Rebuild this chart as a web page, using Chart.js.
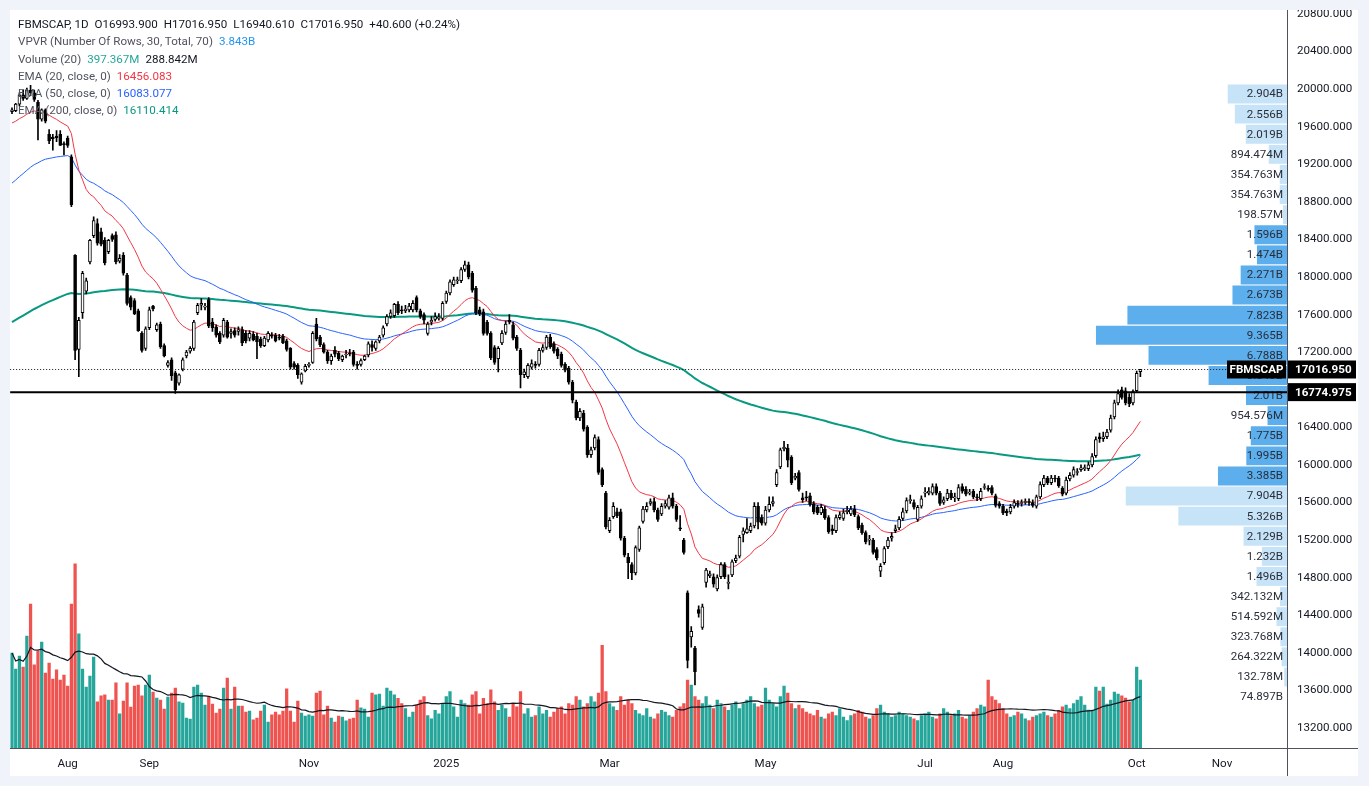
<!DOCTYPE html>
<html>
<head>
<meta charset="utf-8">
<script src="https://cdn.jsdelivr.net/npm/chart.js@4.4.1/dist/chart.umd.min.js"></script>
<style>
  html, body { margin: 0; padding: 0; background: #f0f3fa; }
  body { width: 1369px; height: 786px; position: relative; overflow: hidden; font-family: Roboto, sans-serif; }
  #pane { position: absolute; left: 10px; top: 10px; width: 1348px; height: 766px; background: #fff; overflow: hidden; }
  #vp { position: absolute; left: 0; top: 74px; }
  #main { position: absolute; left: 0; top: 0; }
  #legend { position: absolute; left: 8px; top: 6px; font-size: 11.6px; line-height: 17.3px; color: #131722; white-space: nowrap; }
  #legend .g { color: #50535e; }
  #legend span.v { margin-left: 6px; }
</style>
</head>
<body>
<div id="pane">
  <canvas id="vp" width="1277" height="624"></canvas>
  <canvas id="main" width="1348" height="766"></canvas>
  <div id="legend">
    <div>FBMSCAP, 1D<span class="v">O16993.900</span><span class="v">H17016.950</span><span class="v">L16940.610</span><span class="v">C17016.950</span><span class="v">+40.600 (+0.24%)</span></div>
    <div><span class="g">VPVR (Number Of Rows, 30, Total, 70)</span><span class="v" style="color:#2196f3">3.843B</span></div>
    <div><span class="g">Volume (20)</span><span class="v" style="color:#26a69a">397.367M</span><span class="v">288.842M</span></div>
    <div><span class="g">EMA (20, close, 0)</span><span class="v" style="color:#f23645">16456.083</span></div>
    <div><span class="g">EMA (50, close, 0)</span><span class="v" style="color:#2962ff">16083.077</span></div>
    <div><span class="g">EMA (200, close, 0)</span><span class="v" style="color:#089981">16110.414</span></div>
  </div>
</div>
<script>
// daily bars [open, high, low, close]
const ohlc = [
  [19760,19800,19740,19780],[19770,19850,19760,19840],[19840,19960,19820,19940],[19940,19990,19880,19900],[19900,20010,19890,19990],
  [19990,20040,19930,19960],[19960,19990,19870,19890],[19860,19880,19460,19680],[19680,19790,19660,19780],[19780,19790,19640,19660],
  [19520,19570,19420,19450],[19490,19520,19350,19470],[19500,19560,19440,19480],[19520,19560,19400,19400],[19420,19440,19300,19410],
  [19480,19500,19380,19400],[19280,19300,18750,18770],[18230,18240,17120,17220],[17230,17570,16940,17540],[17620,18060,17560,18040],
  [17850,17990,17820,17960],[18160,18400,18140,18390],[18440,18640,18420,18600],[18570,18620,18340,18360],[18480,18520,18330,18350],
  [18390,18420,18130,18150],[18270,18400,18250,18390],[18440,18460,18380,18400],[18450,18480,18140,18160],[18170,18240,18150,18200],
  [18230,18260,18020,18040],[18020,18040,17700,17720],[17780,17800,17650,17680],[17750,17770,17600,17610],[17640,17660,17420,17430],
  [17400,17420,17200,17220],[17240,17470,17220,17450],[17460,17680,17440,17650],[17690,17700,17640,17660],[17440,17510,17420,17490],
  [17500,17520,17240,17260],[17270,17290,17150,17160],[17060,17110,17040,17090],[17120,17140,16900,16950],[16980,17000,16760,16800],
  [16870,16970,16850,16960],[17020,17140,17000,17120],[17160,17220,17140,17200],[17210,17260,17190,17240],[17240,17540,17220,17520],
  [17620,17720,17600,17700],[17700,17770,17650,17720],[17680,17720,17650,17690],[17760,17780,17460,17480],[17520,17560,17420,17460],
  [17470,17490,17360,17380],[17400,17420,17290,17310],[17380,17560,17360,17540],[17520,17540,17350,17360],[17400,17450,17350,17420],
  [17430,17460,17360,17380],[17420,17470,17380,17440],[17440,17470,17270,17300],[17400,17430,17300,17320],[17350,17430,17320,17400],
  [17390,17420,17320,17330],[17370,17400,17130,17310],[17340,17360,17250,17270],[17270,17370,17260,17350],[17330,17420,17310,17400],
  [17380,17410,17350,17370],[17380,17400,17310,17320],[17360,17390,17330,17350],[17370,17390,17290,17300],[17320,17340,17210,17230],
  [17240,17250,17020,17040],[17080,17100,17020,17040],[17060,17080,16920,16960],[16880,16980,16860,16970],[17000,17070,16990,17050],
  [17060,17090,17040,17070],[17090,17420,17080,17400],[17500,17560,17320,17340],[17360,17380,17260,17280],[17280,17300,17190,17200],
  [17200,17220,17080,17110],[17110,17180,17070,17160],[17220,17260,17150,17180],[17190,17210,17110,17130],[17120,17170,17100,17160],
  [17170,17220,17140,17180],[17190,17230,17160,17180],[17200,17220,17050,17070],[17070,17100,17020,17060],[17070,17130,17050,17110],
  [17120,17170,17110,17160],[17170,17310,17150,17290],[17280,17320,17210,17250],[17240,17320,17220,17310],[17320,17380,17300,17360],
  [17380,17480,17360,17460],[17500,17600,17480,17580],[17580,17650,17560,17620],[17590,17720,17570,17710],[17710,17740,17600,17620],
  [17650,17690,17610,17640],[17640,17700,17620,17660],[17650,17720,17630,17690],[17650,17750,17630,17720],[17780,17800,17630,17650],
  [17640,17660,17560,17580],[17600,17620,17500,17540],[17400,17520,17380,17500],[17520,17580,17490,17540],[17550,17620,17530,17580],
  [17560,17610,17540,17570],[17560,17740,17540,17720],[17740,17850,17720,17830],[17830,17970,17810,17950],[17920,18000,17900,17970],
  [17960,18000,17930,17970],[17960,18100,17940,18080],[18080,18170,18060,18130],[18130,18160,17980,18000],[18040,18060,17840,17860],
  [17880,17900,17600,17620],[17650,17680,17590,17610],[17630,17660,17380,17400],[17520,17540,17380,17400],[17400,17420,17120,17140],
  [17250,17270,17070,17090],[17130,17260,16990,17240],[17300,17430,17280,17400],[17410,17530,17390,17500],[17540,17600,17500,17520],
  [17490,17520,17330,17350],[17360,17380,17220,17240],[17220,17240,16820,16960],[16960,17020,16930,16990],[16940,17080,16920,17060],
  [17040,17120,17020,17080],[17070,17100,17030,17060],[17070,17240,17050,17220],[17220,17280,17200,17250],[17250,17380,17230,17360],
  [17360,17390,17240,17260],[17290,17310,17190,17210],[17230,17250,17130,17160],[17180,17200,17040,17060],[17070,17090,16990,17010],
  [17030,17050,16860,16880],[16880,16900,16660,16690],[16670,16690,16480,16500],[16500,16600,16470,16570],[16550,16580,16360,16380],
  [16400,16420,16080,16110],[16110,16190,16080,16160],[16180,16320,16160,16290],[16270,16300,15900,15920],[15950,15970,15770,15790],
  [15700,15720,15320,15340],[15300,15440,15280,15410],[15450,15600,15430,15560],[15500,15540,15440,15460],[15500,15530,15200,15220],
  [15220,15240,15020,15040],[15020,15060,14790,14960],[14940,14960,14780,14850],[14850,15140,14830,15120],[15100,15350,15080,15330],
  [15400,15560,15380,15530],[15520,15600,15500,15560],[15590,15640,15570,15610],[15610,15650,15500,15520],[15520,15540,15400,15420],
  [15480,15590,15460,15560],[15560,15620,15540,15590],[15550,15680,15530,15650],[15650,15700,15540,15560],[15560,15580,15400,15420],
  [15330,15460,15300,15320],[15200,15220,15050,15070],[14640,14660,13840,13920],[14170,14280,14060,14230],[14050,14070,13660,13800],
  [14460,14500,14380,14420],[14270,14520,14250,14490],[14750,14900,14700,14880],[14820,14870,14800,14840],[14810,14840,14700,14730],
  [14680,14830,14660,14800],[14810,14960,14790,14940],[14940,14960,14790,14810],[14740,14830,14680,14750],[14830,14990,14810,14970],
  [14980,15040,14960,15010],[15030,15250,15010,15230],[15260,15330,15180,15300],[15280,15430,15270,15320],[15300,15380,15280,15350],
  [15350,15600,15330,15560],[15560,15600,15320,15390],[15440,15470,15360,15380],[15380,15560,15360,15520],[15520,15660,15500,15580],
  [15590,15660,15560,15610],[15790,15950,15770,15920],[15980,16180,15960,16160],[16170,16250,16150,16190],[16180,16220,15980,16050],
  [16080,16100,15790,15810],[15860,15910,15840,15880],[15920,15940,15720,15740],[15650,15700,15600,15630],[15660,15720,15620,15650],
  [15670,15700,15560,15580],[15590,15610,15480,15500],[15550,15570,15470,15490],[15490,15580,15470,15550],[15530,15560,15420,15440],
  [15440,15460,15270,15290],[15320,15360,15260,15300],[15300,15470,15280,15440],[15440,15500,15420,15470],[15430,15530,15410,15490],
  [15500,15560,15480,15520],[15480,15560,15460,15530],[15530,15570,15450,15470],[15450,15470,15310,15330],[15360,15380,15260,15280],
  [15280,15300,15160,15180],[15200,15250,15150,15210],[15200,15220,15050,15070],[15100,15120,14990,15010],[14870,14950,14810,14920],
  [14960,15130,14940,15110],[15130,15230,15110,15200],[15220,15280,15190,15240],[15300,15360,15280,15320],[15330,15450,15310,15420],
  [15430,15540,15410,15500],[15510,15650,15490,15620],[15620,15680,15590,15630],[15600,15630,15530,15550],[15420,15570,15400,15550],
  [15560,15670,15540,15640],[15700,15760,15660,15710],[15700,15760,15680,15720],[15700,15800,15680,15770],[15770,15800,15680,15700],
  [15700,15720,15570,15590],[15600,15660,15580,15630],[15640,15740,15620,15700],[15700,15730,15630,15650],[15650,15700,15610,15660],
  [15640,15790,15620,15760],[15770,15800,15700,15720],[15740,15770,15670,15690],[15700,15740,15680,15710],[15720,15740,15640,15660],
  [15660,15690,15620,15650],[15640,15750,15620,15720],[15760,15800,15740,15770],[15750,15780,15720,15740],[15760,15780,15680,15700],
  [15670,15690,15550,15570],[15590,15610,15540,15560],[15560,15580,15470,15490],[15510,15530,15460,15490],[15500,15580,15480,15550],
  [15560,15630,15540,15600],[15590,15620,15550,15580],[15590,15630,15560,15600],[15600,15640,15580,15610],[15610,15640,15570,15600],
  [15600,15630,15550,15570],[15560,15680,15540,15660],[15660,15820,15640,15790],[15790,15890,15770,15860],[15860,15880,15790,15810],
  [15810,15890,15790,15860],[15860,15890,15820,15850],[15860,15880,15760,15780],[15750,15770,15670,15690],[15700,15870,15680,15840],
  [15850,15920,15830,15890],[15890,15980,15870,15950],[15920,15960,15890,15930],[15950,16000,15930,15970],[15960,16000,15940,15970],
  [15960,16030,15940,16000],[16000,16120,15980,16090],[16100,16300,16080,16270],[16300,16340,16240,16280],[16280,16350,16250,16300],
  [16300,16380,16280,16350],[16370,16530,16350,16500],[16510,16690,16490,16660],[16660,16800,16640,16760],[16800,16830,16700,16720],
  [16790,16820,16640,16660],[16720,16760,16620,16650],[16660,16800,16640,16780],[16790,17000,16770,16976.35],[16993.9,17016.95,16940.61,17016.95]
];

// daily volume, millions
const volumes = [
  555,461,537,473,654,841,485,566,619,438, 496,403,456,397,426,362,841,1075,666,461,
  356,420,531,269,304,310,280,280,380,199, 274,380,239,362,368,304,368,426,327,292,
  280,228,298,321,350,269,263,175,169,356, 368,321,251,298,257,204,228,350,409,228,
  356,245,245,210,216,164,175,216,251,152, 193,210,193,216,345,216,152,274,204,187,
  193,187,321,333,193,245,175,152,187,181, 158,169,175,280,234,228,181,321,310,315,
  245,350,333,310,290,260,
  230,180,210,250,280,300,190,170,220,200,
  260,300,330,240,180,280,260,250,310,330,200,
  290,260,340,270,220,250,230,180,260,240,330,200,230,180,190,240,
  200,220,180,210,230,240,200,260,250,300,280,240,260,300,270,320,
  600,
  330,260,240,220,300,250,280,260,220,200,190,230,180,170,200,220,210,190,180,220,240,260,
  397,368,300,
  280,260,300,250,230,280,260,240,220,250,270,230,260,280,300,260,240,
  250,350,280,260,240,300,362,320,260,230,250,
  230,210,200,190,220,180,170,200,210,190,230,180,160,190,200,220,210,180,170,190,230,250,210,200,
  180,190,210,200,190,180,170,160,190,200,210,180,170,200,230,210,190,200,220,180,170,190,210,230,
  250,240,397,300,280,260,230,200,180,190,210,200,170,160,180,190,200,210,190,180,200,220,240,250,230,260,280,300,250,
  222,222,356,333,356,257,280,327,315,304,292,269,280,473,397
];

const priceTicks = [13200,13600,14000,14400,14800,15200,15600,16000,16400,16800,17200,17600,18000,18400,18800,19200,19600,20000,20400,20800];
const tickIdx  = [15, 37, 80, 117, 161, 203, 246, 267, 303, 326];
const tickText = ['Aug','Sep','Nov','2025','Mar','May','Jul','Aug','Oct','Nov'];

// volume profile rows, top (high price) to bottom, millions
const vpRows = [2904,2556,2019,894.474,354.763,354.763,198.57,1596,1474,2271,2673,7823,9365,6788,3843,
                2010,954.576,1775,1995,3385,7904,5326,2129,1232,1496,342.132,514.592,323.768,264.322,132.78];
const vpTotal = '74.897B';
const vpValueArea = [7, 19];

const emaSeeds = { 20: 19640, 50: 19000, 200: 17520 };
const levelLine = 16774.975;
const symbol = 'FBMSCAP';

const nSlots = 344;
const slots = Array.from({ length: nSlots }, (_, i) => String(i));
const closes = ohlc.map(b => b[3]);
const lastClose = closes[closes.length - 1];
const isUp = ohlc.map(b => b[3] >= b[0]);

function ema(n) {
  const a = 2 / (n + 1);
  let v = emaSeeds[n];
  return closes.map((c, i) => { if (i > 0) v = c * a + v * (1 - a); return v; });
}
const volMA = volumes.map((v, i) => {
  const w = volumes.slice(Math.max(0, i - 19), i + 1);
  return w.reduce((s, x) => s + x, 0) / w.length;
});

const tickMap = {};
tickIdx.forEach((i, k) => { tickMap[i] = tickText[k]; });

Chart.defaults.font.family = 'Roboto, sans-serif';
Chart.defaults.font.size = 11.6;
Chart.defaults.color = '#131722';

const overlay = {
  id: 'overlay',
  afterDraw(c) {
    const { ctx, chartArea: a } = c;
    const y = c.scales.y;
    ctx.save();
    // axis frame lines
    ctx.strokeStyle = '#4f525c';
    ctx.lineWidth = 1;
    ctx.beginPath();
    ctx.moveTo(Math.round(a.right) + 0.5, 0);
    ctx.lineTo(Math.round(a.right) + 0.5, c.height);
    ctx.moveTo(0, Math.round(a.bottom) + 0.5);
    ctx.lineTo(c.width, Math.round(a.bottom) + 0.5);
    ctx.stroke();
    // last price dotted line
    const yl = Math.round(y.getPixelForValue(lastClose)) + 0.5;
    ctx.setLineDash([1, 2]);
    ctx.strokeStyle = '#131722';
    ctx.beginPath();
    ctx.moveTo(a.left, yl);
    ctx.lineTo(a.right, yl);
    ctx.stroke();
    ctx.setLineDash([]);
    // horizontal level
    const yh = y.getPixelForValue(levelLine);
    ctx.lineWidth = 2;
    ctx.strokeStyle = '#000';
    ctx.beginPath();
    ctx.moveTo(a.left, yh);
    ctx.lineTo(a.right, yh);
    ctx.stroke();
    // price tags
    ctx.font = 'bold 11.6px Roboto, sans-serif';
    ctx.textBaseline = 'middle';
    const tag = (yy, txt) => {
      ctx.fillStyle = '#000';
      ctx.fillRect(a.right + 1, yy - 9, 68, 18);
      ctx.fillStyle = '#fff';
      ctx.textAlign = 'left';
      ctx.fillText(txt, a.right + 8, yy + 0.5);
    };
    tag(yl, lastClose.toFixed(3));
    tag(yh, levelLine.toFixed(3));
    ctx.fillStyle = '#000';
    ctx.fillRect(a.right - 60, yl - 9, 59, 18);
    ctx.fillStyle = '#fff';
    ctx.textAlign = 'center';
    ctx.fillText(symbol, a.right - 30.5, yl + 0.5);
    ctx.restore();
  }
};

const mainCanvas = document.getElementById('main');
const mainChart = new Chart(mainCanvas, {
  type: 'bar',
  data: {
    labels: slots,
    datasets: [
      {
        type: 'bar', yAxisID: 'yv', data: volumes, order: 10, grouped: false,
        backgroundColor: isUp.map(u => u ? '#26a69a' : '#ef5350'), barThickness: 2.6
      },
      {
        type: 'line', yAxisID: 'yv', data: volMA, order: 9,
        borderColor: '#131722', borderWidth: 1.2, pointRadius: 0, pointHoverRadius: 0, tension: 0
      },
      {
        type: 'line', data: ema(200), order: 8,
        borderColor: '#089981', borderWidth: 2, pointRadius: 0, pointHoverRadius: 0, tension: 0
      },
      {
        type: 'line', data: ema(50), order: 7,
        borderColor: '#2962ff', borderWidth: 1, pointRadius: 0, pointHoverRadius: 0, tension: 0
      },
      {
        type: 'line', data: ema(20), order: 6,
        borderColor: '#f23645', borderWidth: 1, pointRadius: 0, pointHoverRadius: 0, tension: 0
      },
      {
        type: 'bar', data: ohlc.map(b => [b[2], b[1]]), order: 2, grouped: false,
        backgroundColor: '#000', barThickness: 1
      },
      {
        type: 'bar', data: ohlc.map(b => [b[0], b[3]]), order: 1, grouped: false,
        backgroundColor: isUp.map(u => u ? '#ffffff' : '#000000'),
        borderColor: '#000', borderWidth: 1, borderSkipped: false,
        barThickness: 3, minBarLength: 1
      }
    ]
  },
  options: {
    responsive: false,
    maintainAspectRatio: false,
    animation: false,
    layout: { padding: 0, autoPadding: false },
    plugins: { legend: { display: false }, tooltip: { enabled: false } },
    scales: {
      x: {
        type: 'category', offset: true,
        grid: { display: false, drawTicks: false },
        border: { display: false },
        ticks: {
          autoSkip: false, maxRotation: 0, minRotation: 0, padding: 9,
          callback: (v, i) => tickMap[i] || ''
        },
        afterFit: s => { s.height = 28; }
      },
      y: {
        position: 'right', min: 12987.3, max: 20842.6,
        grid: { display: false, drawTicks: false },
        border: { display: false },
        ticks: { padding: 10, callback: v => Number(v).toFixed(3) },
        afterBuildTicks: s => { s.ticks = priceTicks.map(v => ({ value: v })); },
        afterFit: s => { s.width = 71; }
      },
      yv: { display: false, min: 0, max: 4310 }
    }
  },
  plugins: [overlay]
});

// pull any leftover layout padding outside the pane so the plot area fills it
const a0 = mainChart.chartArea;
const dx = Math.round(a0.left), dy = Math.round(a0.top);
if (dx > 0 || dy > 0) {
  mainCanvas.style.left = (-dx) + 'px';
  mainCanvas.style.top = (-dy) + 'px';
  mainChart.resize(1348 + dx, 766 + dy);
}

const fmtVol = v => v >= 1000 ? (+(v / 1000).toFixed(3)) + 'B' : v + 'M';

const vpLabels = {
  id: 'vpLabels',
  afterDatasetsDraw(c) {
    const { ctx, chartArea: a } = c;
    const els = c.getDatasetMeta(0).data;
    ctx.save();
    ctx.font = '11.6px Roboto, sans-serif';
    ctx.fillStyle = '#2a2e39';
    ctx.textAlign = 'right';
    ctx.textBaseline = 'middle';
    els.forEach((el, i) => ctx.fillText(fmtVol(vpRows[i]), a.right - 4, el.y + 0.5));
    const last = els[els.length - 1];
    ctx.fillText(vpTotal, a.right - 4, last.y + (last.y - els[els.length - 2].y) + 0.5);
    ctx.restore();
  }
};

new Chart(document.getElementById('vp'), {
  type: 'bar',
  data: {
    labels: vpRows.map((_, i) => String(i)),
    datasets: [{
      data: vpRows,
      backgroundColor: vpRows.map((_, i) => (i >= vpValueArea[0] && i <= vpValueArea[1]) ? '#5caeec' : '#c6e3f7'),
      barPercentage: 1, categoryPercentage: 0.94
    }]
  },
  options: {
    indexAxis: 'y',
    responsive: false,
    animation: false,
    layout: { padding: { top: 0, left: 0, right: 0, bottom: 21 }, autoPadding: false },
    plugins: { legend: { display: false }, tooltip: { enabled: false } },
    scales: {
      x: { display: false, reverse: true, min: 0, max: 62600 },
      y: { display: false }
    }
  },
  plugins: [vpLabels]
});
</script>
</body>
</html>
